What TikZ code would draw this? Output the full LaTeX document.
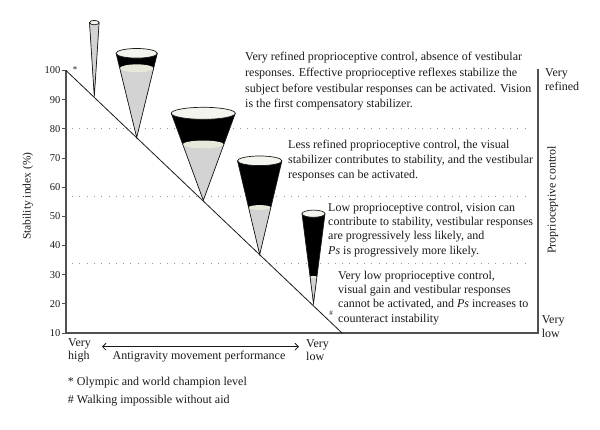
\documentclass[tikz,border=0pt]{standalone}
\usepackage{fontspec}
\setmainfont{Liberation Serif}
\usetikzlibrary{arrows.meta}
\definecolor{ink}{HTML}{1A1A1A}
\definecolor{axisgray}{HTML}{505050}
\definecolor{dotgray}{HTML}{9A9A9A}
\definecolor{liquid}{HTML}{D3D3D3}
\definecolor{surface}{HTML}{E8E8DA}
\definecolor{rim}{HTML}{F4F4EE}
% cone: x, top, half width, apex, liquid level, rim radius
\newcommand{\drawcone}[6]{%
  \pgfmathsetmacro\lqw{#3*(#5-#4)/(#2-#4)}
  \pgfmathsetmacro\lqr{#6*\lqw/#3}
  \fill[black] (#1-#3,#2) -- (#1,#4) -- (#1+#3,#2) -- cycle;
  \fill[liquid] (#1-\lqw,#5) -- (#1,#4) -- (#1+\lqw,#5) -- cycle;
  \fill[surface] (#1,#5) ellipse[x radius={\lqw pt}, y radius={\lqr pt}];
  \draw[conerim] (#1-#3,#2) -- (#1,#4) -- (#1+#3,#2);
  \draw[conerim,fill=rim] (#1,#2) ellipse[x radius={#3pt}, y radius={#6pt}];
}
\tikzset{
  every node/.style={font=\fontsize{12}{14}\selectfont,text=ink,inner sep=0pt},
  blocktext/.style={align=left,anchor=west,font=\fontsize{12}{#1}\selectfont},
  blocktext/.default=14.2,
  sidelabel/.style={align=left,anchor=west,font=\fontsize{12}{13.5}\selectfont},
  ticklabel/.style={anchor=east,font=\fontsize{10.5}{12}\selectfont},
  axisline/.style={draw=axisgray,line width=1.4pt},
  tickline/.style={draw=axisgray,line width=0.9pt},
  slope/.style={draw=ink,line width=0.8pt},
  guide/.style={draw=dotgray,line width=0.9pt,dash pattern=on 0.9pt off 6.4pt},
  conerim/.style={draw=ink,line width=0.7pt,line join=miter},
  dualarr/.style={{Straight Barb[length=3.5pt,width=7pt]}-{Straight Barb[length=3.5pt,width=7pt]},draw=ink,line width=0.8pt},
}
\begin{document}
\begin{tikzpicture}[x=1pt,y=1pt]
\useasboundingbox (0,0) rectangle (600,429);

% frame and guides
\coordinate (orig) at (66,96);
\coordinate (ytop) at (66,358.5);
\coordinate (xend) at (538,96);
\coordinate (rtop) at (538,360);
\coordinate (dend) at (342,96);
\foreach \gy in {300.3,233,166}
  \draw[guide] (72,\gy) -- (528,\gy);
\draw[axisline] (ytop) -- (orig) -- (xend) -- (rtop);
\foreach \v in {10,20,...,100} {
  \draw[tickline] (62,{96+(\v-10)*2.9167}) -- (66,{96+(\v-10)*2.9167});
  \node[ticklabel] (t\v) at (60.5,{96+(\v-10)*2.9167}) {\v};
}
\draw[slope] (ytop) -- (dend);

% cones
\drawcone{94.3}{406.4}{4.8}{332.3}{406.4}{2.2}
\drawcone{136.7}{375.7}{20.6}{291.5}{360.7}{4.8}
\drawcone{203.3}{315.7}{32}{228.7}{284.6}{6}
\drawcone{259.7}{268.2}{22.2}{174.5}{221.5}{4.8}
\drawcone{313.5}{215.3}{11.5}{125.5}{152}{3.6}

% texts
\node[blocktext=15.8] (refined) at (245,347.7) {Very refined proprioceptive control, absence of vestibular\\responses. Effective proprioceptive reflexes stabilize the\\subject before vestibular responses can be activated. Vision\\is the first compensatory stabilizer.};
\node[blocktext=15.2] (lessref) at (288,268.7) {Less refined proprioceptive control, the visual\\stabilizer contributes to stability, and the vestibular\\responses can be activated.};
\node[blocktext] (low) at (328,199) {Low proprioceptive control, vision can\\contribute to stability, vestibular responses\\are progressively less likely, and\\\textit{Ps} is progressively more likely.};
\node[blocktext] (verylow) at (338,131) {Very low proprioceptive control,\\visual gain and vestibular responses\\cannot be activated, and \textit{Ps} increases to\\counteract instability};

\node[font=\small] (star) at (75,359) {*};
\node[font=\scriptsize] (hash) at (331,116) {\#};

\node[sidelabel] (topref) at (545,349.5) {Very\\refined};
\node[sidelabel] (botlow) at (541.7,102.3) {Very\\low};
\node[rotate=90] (propctl) at (552.7,229) {Proprioceptive control};
\node[rotate=90,font=\fontsize{11.5}{14}\selectfont] (stab) at (28,232.8) {Stability index (\%)};

% performance axis
\node[sidelabel] (vhigh) at (68,78.7) {Very\\high};
\node[sidelabel] (vlow) at (306,78.7) {Very\\low};
\coordinate (arrL) at (102,82.3);
\coordinate (arrR) at (299,82.3);
\draw[dualarr] (arrL) -- (arrR);
\node (agm) at (199,72) {Antigravity movement performance};

% footnotes
\node[anchor=west] (fn1) at (67.7,46.3) {* Olympic and world champion level};
\node[anchor=west] (fn2) at (67.7,28.3) {\# Walking impossible without aid};

\end{tikzpicture}
\end{document}
